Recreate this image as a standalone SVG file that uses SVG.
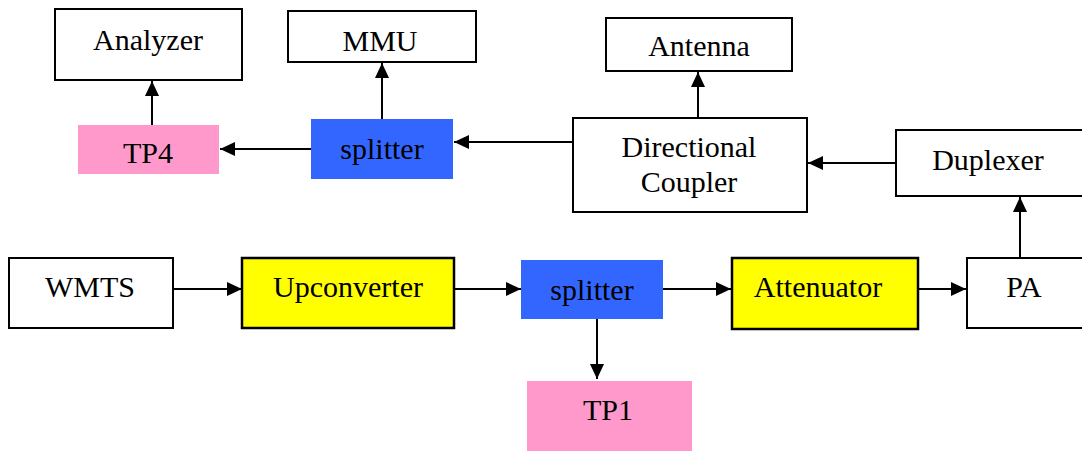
<svg xmlns="http://www.w3.org/2000/svg" width="1082" height="451" viewBox="0 0 1082 451">
<style>
.box{fill:#fff;stroke:#000;stroke-width:2}
.yel{fill:#FFFF00;stroke:#000;stroke-width:2.5}
.blue{fill:#3366FF}
.pink{fill:#FF99CC}
text{font-family:"Liberation Serif","Times New Roman",serif;font-size:30px;fill:#000;text-anchor:middle}
.con line{stroke:#000;stroke-width:2;marker-end:url(#ah)}
</style>
<defs>
<marker id="ah" markerUnits="userSpaceOnUse" markerWidth="16" markerHeight="14" refX="15" refY="7" orient="auto">
<path d="M0,0 L15,7 L0,14 Z" fill="#000"/>
</marker>
</defs>
<rect width="1082" height="451" fill="#fff"/>
<g id="analyzer"><rect class="box" x="55" y="9" width="187" height="71"/><text x="148" y="50">Analyzer</text></g>
<g id="mmu"><rect class="box" x="288" y="11" width="188" height="51"/><text x="380" y="51">MMU</text></g>
<g id="antenna"><rect class="box" x="606" y="18" width="186" height="53"/><text x="699" y="56">Antenna</text></g>
<g id="tp4"><rect class="pink" x="78" y="125" width="141" height="49"/><text x="148" y="163">TP4</text></g>
<g id="splitter2"><rect class="blue" x="311" y="119" width="142" height="60"/><text x="382" y="159">splitter</text></g>
<g id="coupler"><rect class="box" x="573" y="118" width="234" height="94"/><text x="689" y="157">Directional</text><text x="689" y="192">Coupler</text></g>
<g id="duplexer"><rect class="box" x="896" y="130" width="190" height="66"/><text x="988" y="170">Duplexer</text></g>
<g id="wmts"><rect class="box" x="9" y="258" width="164" height="70"/><text x="90" y="297">WMTS</text></g>
<g id="upconverter"><rect class="yel" x="242" y="258" width="212" height="70"/><text x="348" y="297">Upconverter</text></g>
<g id="splitter1"><rect class="blue" x="521" y="260" width="142" height="59"/><text x="592" y="300">splitter</text></g>
<g id="attenuator"><rect class="yel" x="732" y="258" width="186" height="71"/><text x="818" y="297">Attenuator</text></g>
<g id="pa"><rect class="box" x="967" y="258" width="120" height="70"/><text x="1024" y="297">PA</text></g>
<g id="tp1"><rect class="pink" x="527" y="381" width="165" height="70"/><text x="608" y="420">TP1</text></g>
<g class="con" id="connectors">
<line x1="173" y1="289" x2="242" y2="289"/>
<line x1="454" y1="289" x2="521" y2="289"/>
<line x1="663" y1="289" x2="731" y2="289"/>
<line x1="918" y1="289" x2="966" y2="289"/>
<line x1="597" y1="319" x2="597" y2="379"/>
<line x1="1020" y1="258" x2="1020" y2="197"/>
<line x1="896" y1="163" x2="808" y2="163"/>
<line x1="573" y1="142" x2="454" y2="142"/>
<line x1="698" y1="118" x2="698" y2="72"/>
<line x1="311" y1="149" x2="220" y2="149"/>
<line x1="382" y1="119" x2="382" y2="63"/>
<line x1="152" y1="125" x2="152" y2="81"/>
</g>
</svg>
